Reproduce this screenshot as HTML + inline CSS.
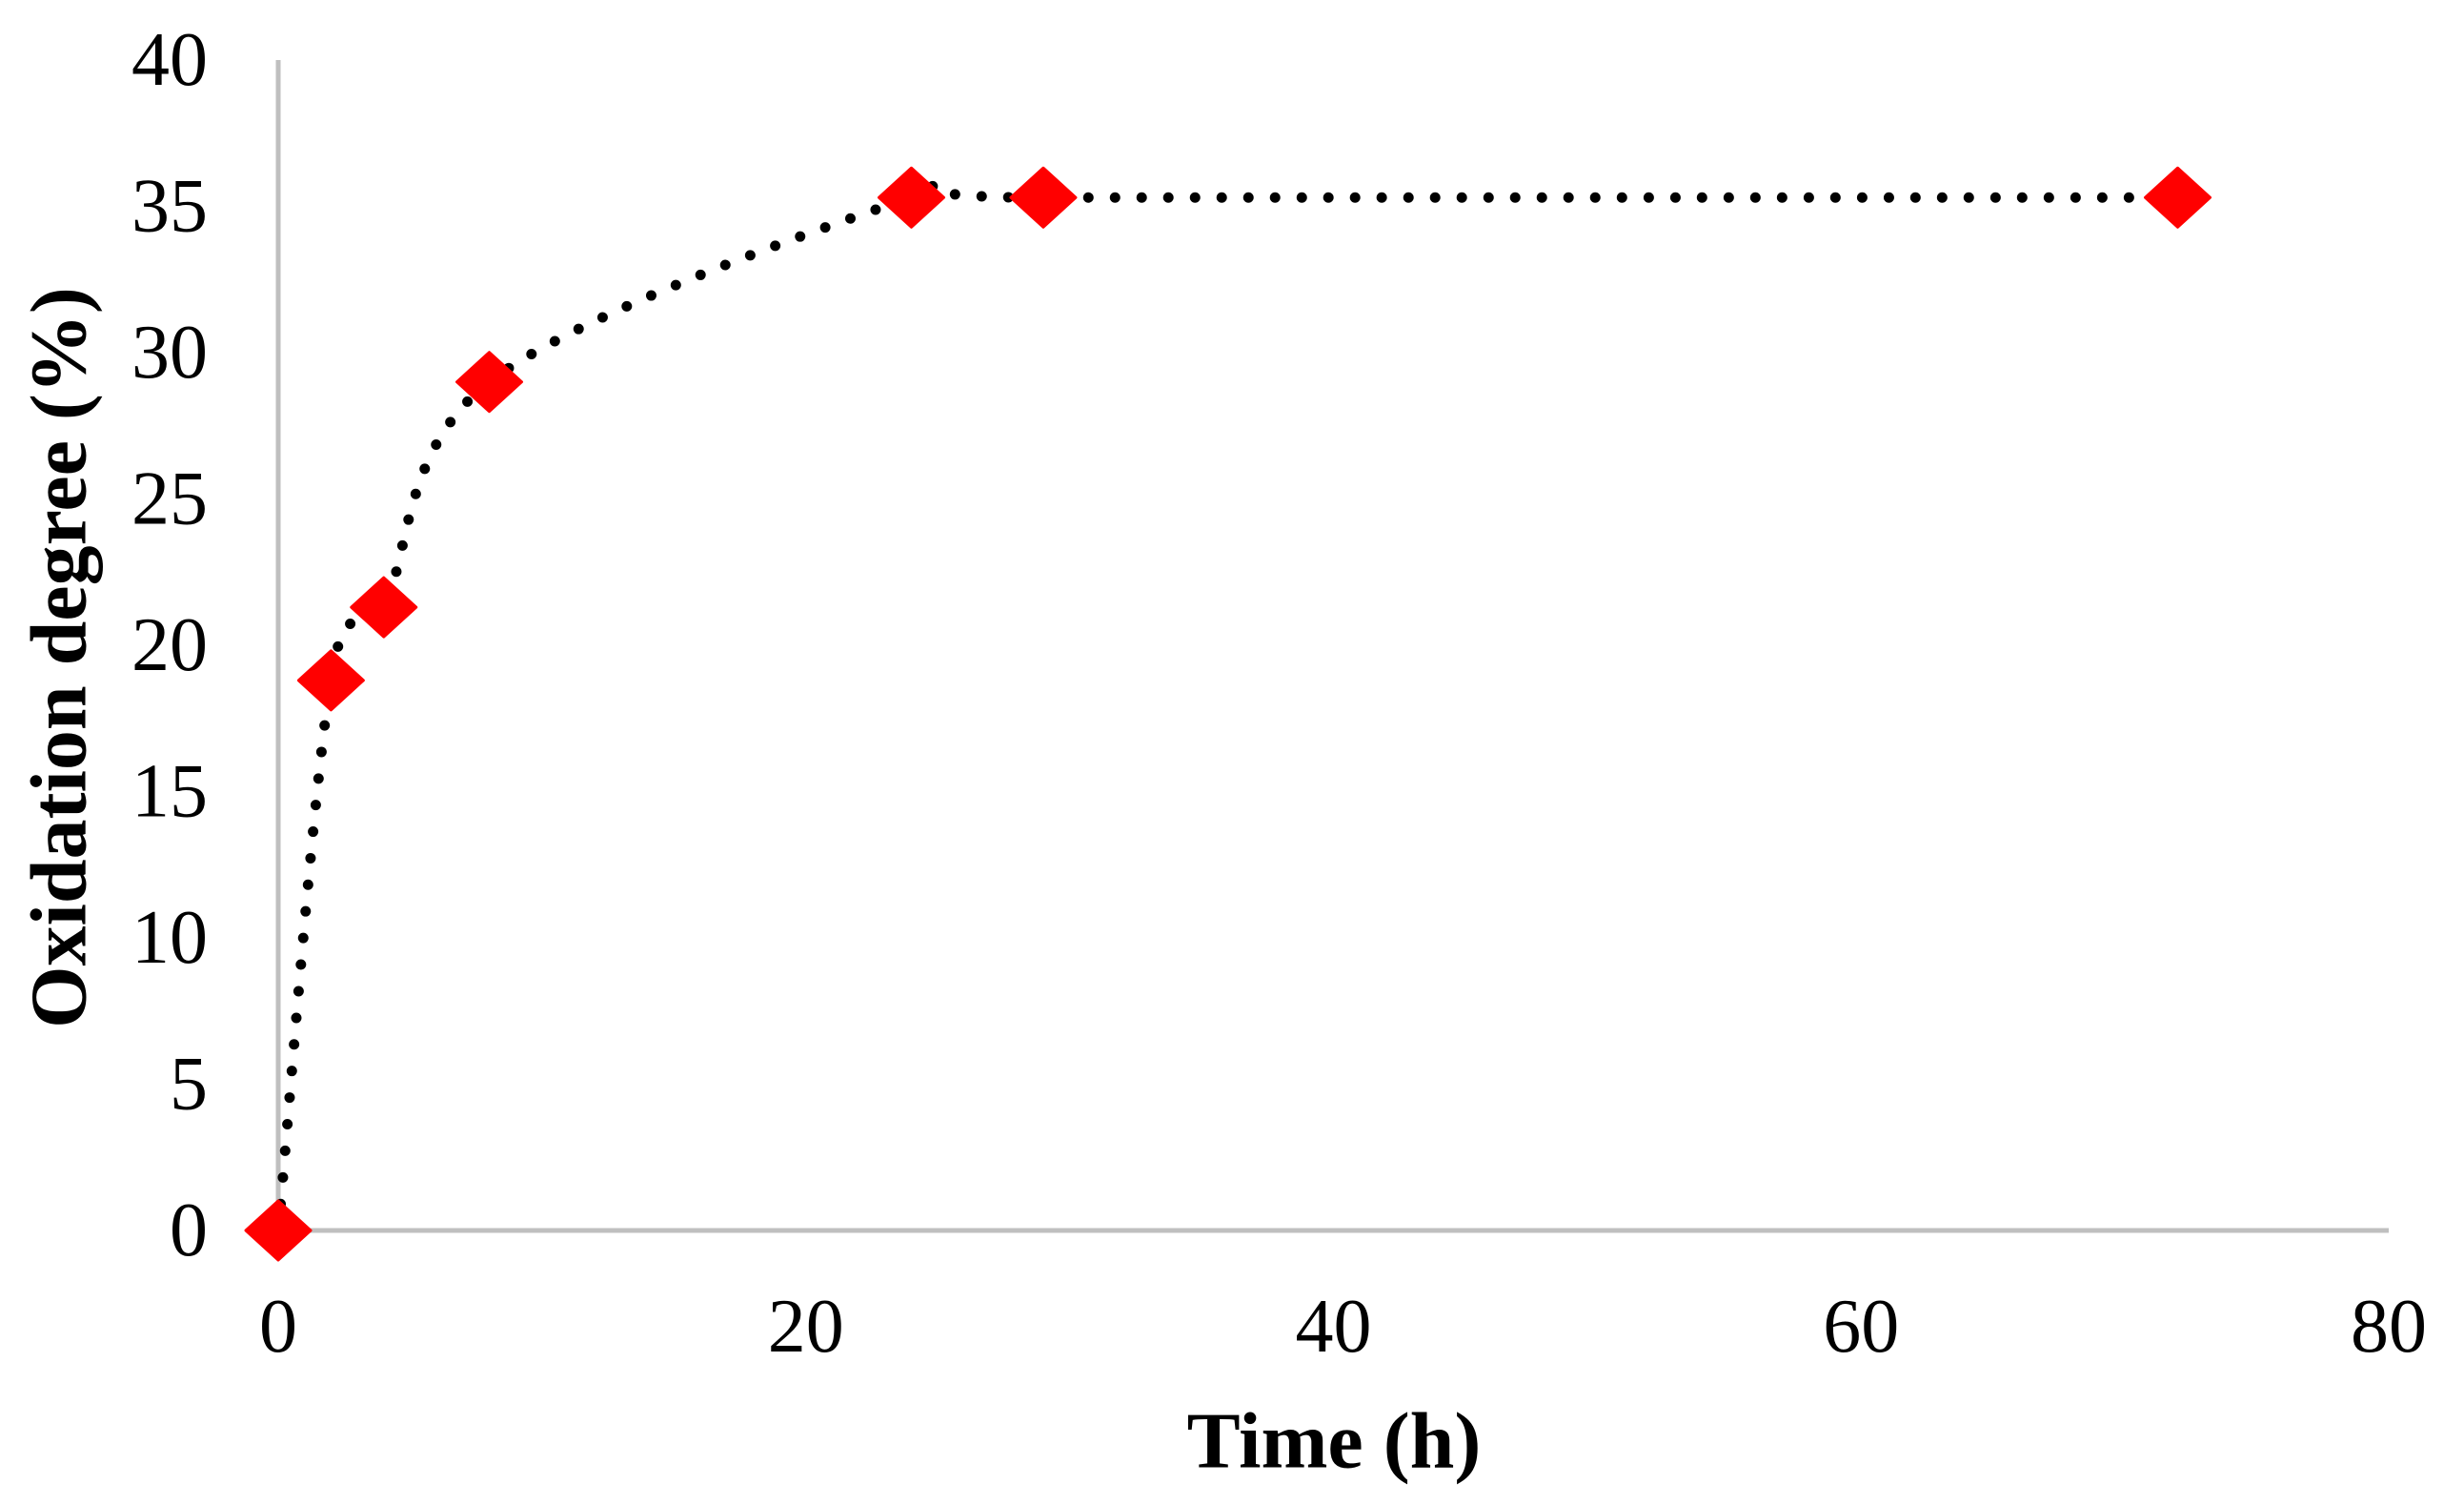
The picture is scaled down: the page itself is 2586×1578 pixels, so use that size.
<!DOCTYPE html>
<html><head><meta charset="utf-8"><style>
html,body{margin:0;padding:0;background:#fff;}
svg{display:block;}
text{font-family:"Liberation Serif",serif;fill:#000;}
</style></head><body>
<svg id="chart" width="2586" height="1578" viewBox="0 0 2586 1578">
<g id="axes"></g>
<g id="series"></g>
<text x="1400" y="1512" text-anchor="middle" dominant-baseline="central" font-size="84" font-weight="bold">Time (h)</text>
<text transform="translate(62,690) rotate(-90)" text-anchor="middle" dominant-baseline="central" font-size="84" font-weight="bold">Oxidation degree (%)</text>
</svg>
<script>
const xValues = [0, 2, 4, 8, 24, 29, 72];
const yValues = [0, 18.8, 21.3, 29, 35.3, 35.3, 35.3];
const xTicks = [0, 20, 40, 60, 80];
const yTicks = [0, 5, 10, 15, 20, 25, 30, 35, 40];

const NS = "http://www.w3.org/2000/svg";
const X0 = 292, X1 = 2507, Y0 = 1291, Y1 = 63;
function sx(v){ return X0 + (v - 0) / (80 - 0) * (X1 - X0); }
function sy(v){ return Y0 - (v - 0) / (40 - 0) * (Y0 - Y1); }
function mk(tag, attrs){ const e = document.createElementNS(NS, tag); for (const k in attrs) e.setAttribute(k, attrs[k]); return e; }

const axes = document.getElementById('axes');
const yAxis = mk('line', {x1: sx(0), y1: sy(40), x2: sx(0), y2: sy(0), stroke: '#bfbfbf', 'stroke-width': 5});


axes.appendChild(yAxis);
const xAxis = mk('line', {x1: sx(0), y1: sy(0), x2: sx(80), y2: sy(0), stroke: '#bfbfbf', 'stroke-width': 5});


axes.appendChild(xAxis);

yTicks.forEach(t => {
  const el = mk('text', {x: 218, y: sy(t), 'text-anchor': 'end', 'dominant-baseline': 'central', 'font-size': 80});
  el.textContent = t;
  
  
  axes.appendChild(el);
});
xTicks.forEach(t => {
  const el = mk('text', {x: sx(t), y: 1392, 'text-anchor': 'middle', 'dominant-baseline': 'central', 'font-size': 80});
  el.textContent = t;
  
  
  axes.appendChild(el);
});

const series = document.getElementById('series');
const pts = xValues.map((x, i) => [sx(x), sy(yValues[i])]);
let d = 'M' + pts[0][0] + ',' + pts[0][1];
const k = 1/6;
for (let i = 0; i < pts.length - 1; i++) {
  const p0 = pts[Math.max(i-1,0)], p1 = pts[i], p2 = pts[i+1], p3 = pts[Math.min(i+2, pts.length-1)];
  const c1 = [p1[0] + (p2[0]-p0[0])*k, p1[1] + (p2[1]-p0[1])*k];
  const c2 = [p2[0] - (p3[0]-p1[0])*k, p2[1] - (p3[1]-p1[1])*k];
  d += ' C' + c1[0] + ',' + c1[1] + ' ' + c2[0] + ',' + c2[1] + ' ' + p2[0] + ',' + p2[1];
}
const line = mk('path', {d: d, fill: 'none', stroke: '#000', 'stroke-width': 11, 'stroke-linecap': 'round', 'stroke-dasharray': '0 28'});


series.appendChild(line);

pts.forEach(p => {
  const w = 34, h = 31;
  const dm = mk('polygon', {points: `${p[0]},${p[1]-h} ${p[0]+w},${p[1]} ${p[0]},${p[1]+h} ${p[0]-w},${p[1]}`, fill: '#ff0000', stroke: '#ff0000', 'stroke-width': 3, 'stroke-linejoin': 'round'});
  
  
  series.appendChild(dm);
});
</script>
</body></html>
